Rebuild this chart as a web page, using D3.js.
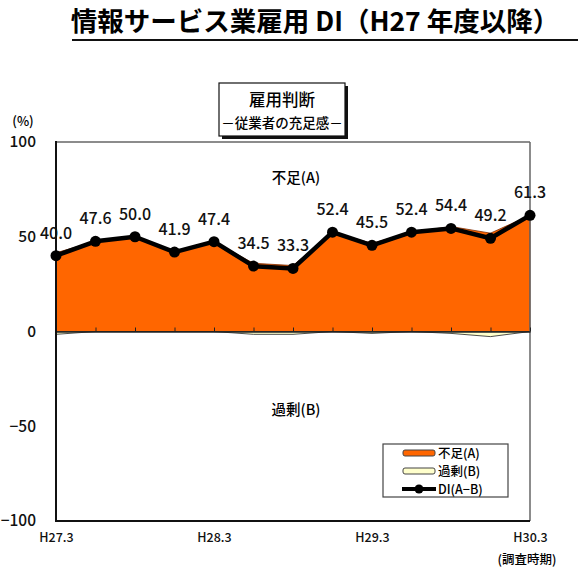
<!DOCTYPE html>
<html>
<head>
<meta charset="utf-8">
<script src="https://cdn.jsdelivr.net/npm/d3@7"></script>
<style>
  body { margin: 0; background: #fff; }
  svg { display: block; font-family: "Noto Sans CJK JP", "Noto Sans", sans-serif; }
</style>
</head>
<body>
<div id="chart"></div>
<script>
// quarters of the survey (H27.3 .. H30.3)
const periods = ["H27.3", "H27.6", "H27.9", "H27.12", "H28.3", "H28.6", "H28.9",
  "H28.12", "H29.3", "H29.6", "H29.9", "H29.12", "H30.3"];
const tickLabels = ["H27.3", "H28.3", "H29.3", "H30.3"];
const yTicks = [100, 50, 0, -50, -100];

// 不足(A), 過剰(B), DI(A-B)
const shortage = [41.5, 47.6, 50.0, 41.9, 47.4, 36.0, 34.8, 52.4, 46.5, 52.4, 55.4, 51.9, 61.3];
const excess = [1.5, 0, 0, 0, 0, 1.5, 1.5, 0, 1.0, 0, 1.0, 2.7, 0];
const di = [40.0, 47.6, 50.0, 41.9, 47.4, 34.5, 33.3, 52.4, 45.5, 52.4, 54.4, 49.2, 61.3];

const width = 579, height = 573;
const plot = {left: 56, right: 530, top: 142, bottom: 521};

const svg = d3.select("#chart").append("svg")
  .attr("width", width)
  .attr("height", height);

const x = d3.scalePoint()
  .domain(periods)
  .range([plot.left, plot.right]);

const y = d3.scaleLinear()
  .domain([-100, 100])
  .range([plot.bottom, plot.top]);

// title
svg.append("text")
  .attr("x", 315)
  .attr("y", 31)
  .attr("text-anchor", "middle")
  .style("font-size", "26.5px")
  .style("font-weight", "bold")
  .text("情報サービス業雇用 DI（H27 年度以降）");

svg.append("line")
  .attr("x1", 72).attr("x2", 578)
  .attr("y1", 40).attr("y2", 40)
  .attr("stroke", "#111")
  .attr("stroke-width", 2);

// box with subtitle
svg.append("rect")
  .attr("x", 222).attr("y", 86)
  .attr("width", 126).attr("height", 53)
  .attr("fill", "#111");
svg.append("rect")
  .attr("x", 219).attr("y", 83)
  .attr("width", 126).attr("height", 53)
  .attr("fill", "#fff")
  .attr("stroke", "#111")
  .attr("stroke-width", 1.2);
svg.append("text")
  .attr("x", 282).attr("y", 106)
  .attr("text-anchor", "middle")
  .style("font-size", "16.5px")
  .style("font-weight", 500)
  .text("雇用判断");
svg.append("text")
  .attr("x", 282).attr("y", 128)
  .attr("text-anchor", "middle")
  .style("font-size", "13.5px")
  .style("font-weight", 500)
  .text("－従業者の充足感－");

// areas
const shortArea = d3.area()
  .x((d, i) => x(periods[i]))
  .y0(y(0))
  .y1(d => y(d));

svg.append("path")
  .datum(shortage)
  .attr("d", shortArea)
  .attr("fill", "#ff6600")
  .attr("stroke", "#7a2a00")
  .attr("stroke-width", 0.8);

const excessArea = d3.area()
  .x((d, i) => x(periods[i]))
  .y0(y(0))
  .y1(d => y(-d));

svg.append("path")
  .datum(excess)
  .attr("d", excessArea)
  .attr("fill", "#ffffcc")
  .attr("stroke", "#222")
  .attr("stroke-width", 0.8);

// frame: top / right grey, left / bottom black
svg.append("line")
  .attr("x1", plot.left).attr("x2", plot.right)
  .attr("y1", plot.top).attr("y2", plot.top)
  .attr("stroke", "#666").attr("stroke-width", 1.5);
svg.append("line")
  .attr("x1", plot.right).attr("x2", plot.right)
  .attr("y1", plot.top).attr("y2", plot.bottom)
  .attr("stroke", "#666").attr("stroke-width", 1.5);

// zero line with small upward ticks
const zeroAxis = d3.axisBottom(x).tickSize(-4).tickFormat("").tickSizeOuter(0);
svg.append("g")
  .attr("transform", "translate(0," + y(0) + ")")
  .call(zeroAxis)
  .call(g => g.selectAll("line").attr("stroke", "#222"))
  .call(g => g.select(".domain").attr("stroke", "#222").attr("stroke-width", 1.5));

svg.append("line")
  .attr("x1", plot.left).attr("x2", plot.right)
  .attr("y1", plot.bottom).attr("y2", plot.bottom)
  .attr("stroke", "#111").attr("stroke-width", 2);

// y axis
const yAxis = d3.axisLeft(y).tickValues(yTicks).tickSize(0).tickPadding(0);
svg.append("g")
  .attr("transform", "translate(" + (plot.left - 20) + ",0)")
  .call(yAxis)
  .call(g => g.select(".domain").remove())
  .call(g => g.selectAll("text")
    .style("font-size", "15.5px")
    .style("font-weight", 500)
    .style("font-family", "'Noto Sans CJK JP', sans-serif")
    .attr("fill", "#111"));

svg.append("line")
  .attr("x1", plot.left).attr("x2", plot.left)
  .attr("y1", plot.top - 1).attr("y2", plot.bottom + 1)
  .attr("stroke", "#111").attr("stroke-width", 2);

svg.append("text")
  .attr("x", 23).attr("y", 126)
  .attr("text-anchor", "middle")
  .style("font-size", "13px")
  .style("font-weight", 500)
  .text("(%)");

// x axis labels
const xAxis = d3.axisBottom(x).tickValues(tickLabels).tickSize(0).tickPadding(0);
svg.append("g")
  .attr("transform", "translate(0," + (plot.bottom + 12) + ")")
  .call(xAxis)
  .call(g => g.select(".domain").remove())
  .call(g => g.selectAll("text")
    .style("font-size", "12.5px")
    .style("font-weight", 500)
    .style("font-family", "'Noto Sans CJK JP', sans-serif")
    .attr("fill", "#111"));

svg.append("text")
  .attr("x", 527).attr("y", 564)
  .attr("text-anchor", "middle")
  .style("font-size", "12.5px")
  .style("font-weight", 500)
  .text("(調査時期)");

// area labels
svg.append("text")
  .attr("x", 296).attr("y", 183)
  .attr("text-anchor", "middle")
  .style("font-size", "14.5px")
  .style("font-weight", 500)
  .text("不足(A)");
svg.append("text")
  .attr("x", 296).attr("y", 415)
  .attr("text-anchor", "middle")
  .style("font-size", "14.5px")
  .style("font-weight", 500)
  .text("過剰(B)");

// DI line
const line = d3.line()
  .x((d, i) => x(periods[i]))
  .y(d => y(d));

svg.append("path")
  .datum(di)
  .attr("d", line)
  .attr("fill", "none")
  .attr("stroke", "#000")
  .attr("stroke-width", 4.5)
  .attr("stroke-linejoin", "round");

svg.selectAll(".dot")
  .data(di)
  .enter()
  .append("circle")
  .attr("cx", (d, i) => x(periods[i]))
  .attr("cy", d => y(d))
  .attr("r", 5.5)
  .attr("fill", "#000");

svg.selectAll(".val")
  .data(di)
  .enter()
  .append("text")
  .attr("x", (d, i) => x(periods[i]))
  .attr("y", d => y(d) - 17)
  .attr("text-anchor", "middle")
  .style("font-size", "16px")
  .style("font-weight", 500)
  .attr("fill", "#111")
  .text(d => d.toFixed(1));

// legend
const legend = svg.append("g").attr("transform", "translate(383,444)");
legend.append("rect")
  .attr("width", 125).attr("height", 53)
  .attr("fill", "#fff")
  .attr("stroke", "#444")
  .attr("stroke-width", 1.2);

legend.append("rect")
  .attr("x", 20).attr("y", 6)
  .attr("width", 32).attr("height", 6).attr("rx", 2)
  .attr("fill", "#ff6600").attr("stroke", "#444");
legend.append("rect")
  .attr("x", 20).attr("y", 24)
  .attr("width", 32).attr("height", 6).attr("rx", 2)
  .attr("fill", "#ffffcc").attr("stroke", "#444");
legend.append("line")
  .attr("x1", 19).attr("x2", 53)
  .attr("y1", 45).attr("y2", 45)
  .attr("stroke", "#000").attr("stroke-width", 4);
legend.append("circle")
  .attr("cx", 36).attr("cy", 45).attr("r", 4.5)
  .attr("fill", "#000");

const legendNames = ["不足(A)", "過剰(B)", "DI(A−B)"];
legend.selectAll(".lab")
  .data(legendNames)
  .enter()
  .append("text")
  .attr("x", 55)
  .attr("y", (d, i) => 14 + i * 18)
  .style("font-size", "12.5px")
  .style("font-weight", 500)
  .text(d => d);
</script>
</body>
</html>
